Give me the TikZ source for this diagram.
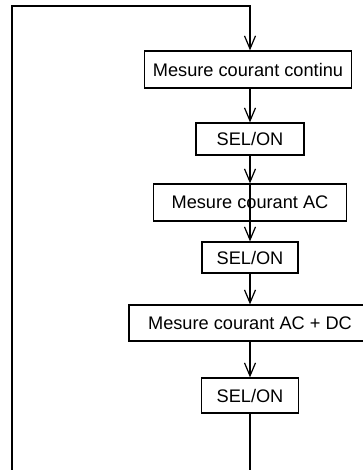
\documentclass[tikz,border=0pt]{standalone}
\usepackage{fontspec}
\setmainfont{Liberation Sans}
\usetikzlibrary{arrows.meta}
\begin{document}
\begin{tikzpicture}[x=1pt,y=-1pt, line width=1.2pt,
  box/.style={draw, rectangle, inner sep=0pt, fill=none, font=\fontsize{18.2}{22}\selectfont, anchor=center},
  arr/.style={-{Straight Barb[length=13pt,width=11pt,line width=1.2pt]}}]
\useasboundingbox (0,0) rectangle (363,470);
\clip (0,0) rectangle (363,470);
\node[box, minimum width=207pt, minimum height=37pt] (b1) at (248,69.5) {Mesure courant continu};
\node[box, minimum width=108pt, minimum height=32pt] (b2) at (250,139) {SEL/ON};
\node[box, minimum width=193pt, minimum height=37pt] (b3) at (250,202.5) {Mesure courant AC};
\node[box, minimum width=96pt, minimum height=31pt] (b4) at (250,257.5) {SEL/ON};
\node[box, minimum width=242pt, minimum height=36pt] (b5) at (250,323) {Mesure courant AC + DC};
\node[box, minimum width=97pt, minimum height=35pt] (b6) at (250,395.5) {SEL/ON};
\coordinate (tl) at (12,6);
\coordinate (tr) at (250,6);
\coordinate (bl) at (12,471);
\coordinate (br) at (250,471);
\draw[arr] (bl) -- (tl) -- (tr) -- (b1.north -| tr);
\draw[arr] (b1.south -| tr) -- (b2.north);
\draw[arr] (b2.south) -- (b3.north);
\draw[arr] (b3.north) -- (b4.north);
\draw[arr] (b4.south) -- (b5.north);
\draw[arr] (b5.south) -- (b6.north);
\draw (b6.south) -- (br);
\end{tikzpicture}
\end{document}
